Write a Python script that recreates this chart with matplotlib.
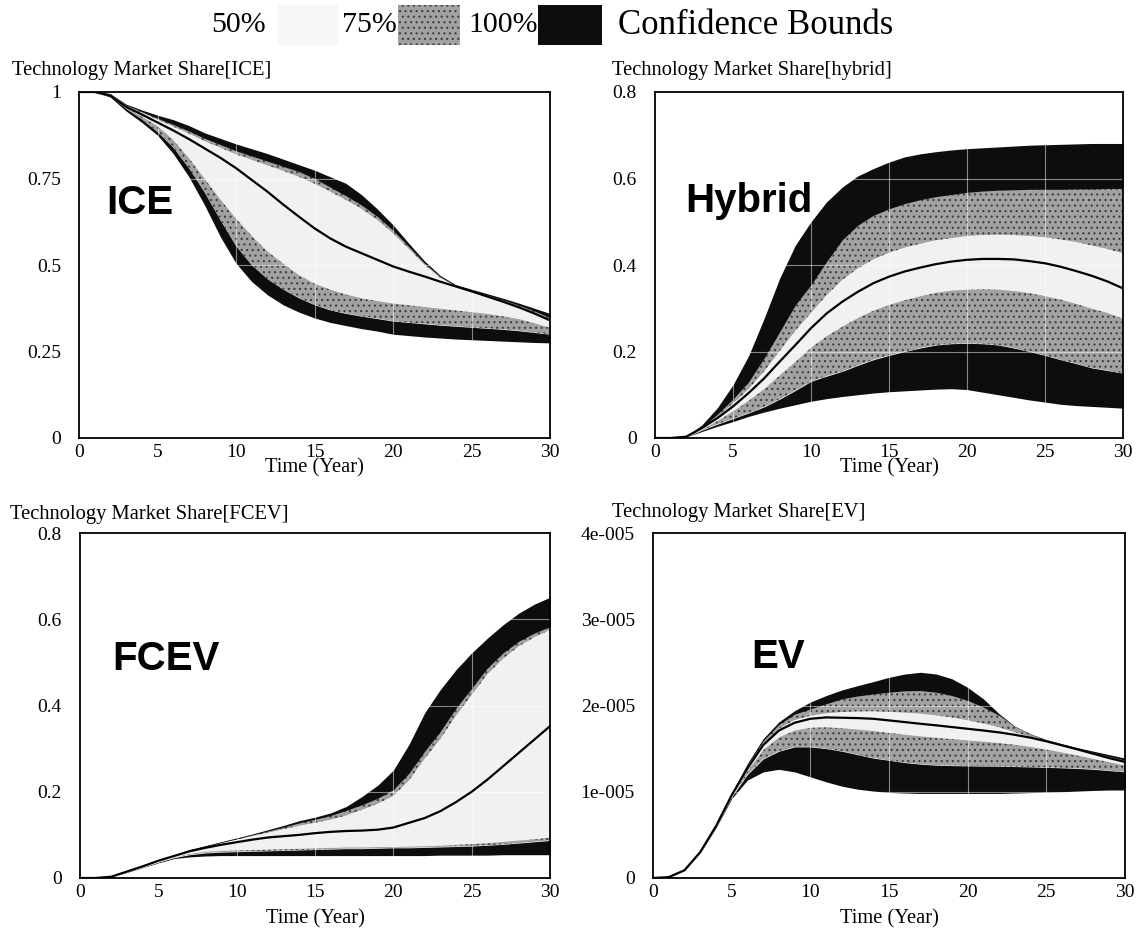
import matplotlib
matplotlib.use("Agg")
import matplotlib.pyplot as plt
from matplotlib.patches import Rectangle
import numpy as np

# ---------------- data (t = 0..30 years) ----------------
years = list(range(0, 31))

# ICE
ice_up100 = [1.0, 1.0, 0.995, 0.965, 0.948, 0.933, 0.92, 0.903, 0.882, 0.866, 0.85, 0.836, 0.822, 0.806, 0.79, 0.774,
             0.755, 0.736, 0.703, 0.662, 0.616, 0.563, 0.512, 0.47, 0.443, 0.43, 0.417, 0.404, 0.39, 0.375, 0.36]
ice_up75 = [1.0, 1.0, 0.994, 0.962, 0.943, 0.924, 0.906, 0.887, 0.866, 0.848, 0.83, 0.815, 0.80, 0.785, 0.77, 0.75,
            0.725, 0.70, 0.673, 0.64, 0.60, 0.553, 0.505, 0.466, 0.44, 0.427, 0.413, 0.399, 0.384, 0.367, 0.348]
ice_up50 = [1.0, 1.0, 0.993, 0.96, 0.94, 0.92, 0.90, 0.88, 0.858, 0.839, 0.82, 0.804, 0.788, 0.772, 0.755, 0.735,
            0.712, 0.688, 0.662, 0.63, 0.592, 0.547, 0.501, 0.463, 0.439, 0.425, 0.411, 0.397, 0.381, 0.363, 0.343]
ice_median = [1.0, 1.0, 0.99, 0.957, 0.935, 0.912, 0.889, 0.864, 0.837, 0.81, 0.78, 0.746, 0.712, 0.675, 0.64, 0.606,
              0.577, 0.553, 0.534, 0.515, 0.496, 0.481, 0.467, 0.452, 0.438, 0.424, 0.409, 0.394, 0.378, 0.36, 0.34]
ice_lo50 = [1.0, 1.0, 0.989, 0.955, 0.93, 0.902, 0.862, 0.81, 0.75, 0.69, 0.635, 0.585, 0.54, 0.505, 0.472, 0.447,
            0.43, 0.416, 0.405, 0.397, 0.39, 0.385, 0.38, 0.375, 0.37, 0.365, 0.36, 0.353, 0.345, 0.333, 0.32]
ice_lo75 = [1.0, 1.0, 0.988, 0.952, 0.922, 0.885, 0.84, 0.78, 0.71, 0.63, 0.555, 0.50, 0.46, 0.43, 0.405, 0.385,
            0.37, 0.36, 0.352, 0.345, 0.338, 0.334, 0.33, 0.326, 0.323, 0.32, 0.317, 0.314, 0.31, 0.305, 0.30]
ice_lo100 = [1.0, 1.0, 0.985, 0.945, 0.912, 0.875, 0.822, 0.755, 0.673, 0.582, 0.505, 0.452, 0.414, 0.385, 0.364,
             0.347, 0.334, 0.325, 0.316, 0.309, 0.30, 0.296, 0.292, 0.289, 0.286, 0.284, 0.282, 0.28, 0.278, 0.276,
             0.275]

# Hybrid
hyb_up100 = [0, 0, 0.004, 0.03, 0.07, 0.123, 0.19, 0.277, 0.37, 0.446, 0.50, 0.546, 0.58, 0.606, 0.623, 0.638,
             0.65, 0.657, 0.662, 0.666, 0.669, 0.671, 0.673, 0.675, 0.677, 0.678, 0.679, 0.68, 0.681, 0.681, 0.681]
hyb_up75 = [0, 0, 0.003, 0.025, 0.055, 0.09, 0.13, 0.185, 0.246, 0.308, 0.354, 0.408, 0.458, 0.492, 0.515, 0.53,
            0.542, 0.551, 0.558, 0.563, 0.568, 0.571, 0.573, 0.574, 0.575, 0.575, 0.575, 0.576, 0.576, 0.577, 0.577]
hyb_up50 = [0, 0, 0.003, 0.024, 0.049, 0.079, 0.113, 0.154, 0.201, 0.248, 0.289, 0.33, 0.365, 0.392, 0.413, 0.428,
            0.44, 0.449, 0.457, 0.462, 0.467, 0.469, 0.47, 0.469, 0.467, 0.464, 0.459, 0.453, 0.445, 0.437, 0.427]
hyb_median = [0, 0, 0.003, 0.023, 0.046, 0.073, 0.104, 0.138, 0.177, 0.215, 0.254, 0.288, 0.315, 0.338, 0.358, 0.373,
              0.385, 0.394, 0.402, 0.408, 0.412, 0.414, 0.414, 0.413, 0.409, 0.404, 0.396, 0.386, 0.375, 0.362, 0.346]
hyb_lo50 = [0, 0, 0.003, 0.021, 0.041, 0.063, 0.088, 0.115, 0.147, 0.178, 0.211, 0.237, 0.259, 0.279, 0.296, 0.309,
            0.32, 0.329, 0.337, 0.342, 0.344, 0.345, 0.344, 0.341, 0.336, 0.329, 0.321, 0.311, 0.30, 0.29, 0.277]
hyb_lo75 = [0, 0, 0.002, 0.018, 0.032, 0.045, 0.058, 0.072, 0.09, 0.11, 0.131, 0.143, 0.154, 0.168, 0.181, 0.191,
            0.20, 0.208, 0.215, 0.218, 0.219, 0.218, 0.215, 0.208, 0.20, 0.191, 0.181, 0.172, 0.162, 0.156, 0.15]
hyb_lo100 = [0, 0, 0.002, 0.015, 0.027, 0.038, 0.05, 0.06, 0.069, 0.077, 0.085, 0.091, 0.096, 0.10, 0.104, 0.107,
             0.109, 0.111, 0.113, 0.114, 0.112, 0.106, 0.10, 0.094, 0.088, 0.083, 0.078, 0.075, 0.073, 0.071, 0.069]

# FCEV
fc_up100 = [0, 0, 0.004, 0.015, 0.027, 0.04, 0.054, 0.066, 0.075, 0.084, 0.093, 0.102, 0.112, 0.122, 0.133, 0.141,
            0.151, 0.166, 0.189, 0.215, 0.25, 0.31, 0.383, 0.437, 0.483, 0.522, 0.556, 0.587, 0.614, 0.635, 0.651]
fc_up75 = [0, 0, 0.004, 0.015, 0.027, 0.04, 0.053, 0.064, 0.073, 0.082, 0.091, 0.10, 0.109, 0.118, 0.128, 0.136,
           0.145, 0.157, 0.17, 0.185, 0.205, 0.243, 0.294, 0.34, 0.394, 0.44, 0.487, 0.522, 0.549, 0.568, 0.583]
fc_up50 = [0, 0, 0.004, 0.015, 0.027, 0.04, 0.053, 0.064, 0.072, 0.081, 0.089, 0.097, 0.105, 0.113, 0.121, 0.128,
           0.135, 0.145, 0.158, 0.172, 0.19, 0.226, 0.276, 0.322, 0.376, 0.424, 0.472, 0.508, 0.537, 0.558, 0.575]
fc_median = [0, 0, 0.003, 0.015, 0.027, 0.04, 0.051, 0.062, 0.07, 0.077, 0.083, 0.089, 0.094, 0.097, 0.10, 0.104,
             0.107, 0.109, 0.11, 0.112, 0.117, 0.128, 0.139, 0.155, 0.176, 0.20, 0.228, 0.259, 0.29, 0.321, 0.352]
fc_lo50 = [0, 0, 0.003, 0.014, 0.025, 0.037, 0.048, 0.057, 0.062, 0.064, 0.065, 0.066, 0.067, 0.068, 0.069, 0.07,
           0.071, 0.072, 0.072, 0.073, 0.073, 0.074, 0.075, 0.076, 0.078, 0.08, 0.082, 0.085, 0.088, 0.091, 0.095]
fc_lo75 = [0, 0, 0.003, 0.014, 0.025, 0.037, 0.047, 0.054, 0.058, 0.06, 0.061, 0.062, 0.063, 0.064, 0.065, 0.066,
           0.067, 0.068, 0.068, 0.069, 0.07, 0.07, 0.071, 0.072, 0.073, 0.074, 0.076, 0.078, 0.081, 0.084, 0.087]
fc_lo100 = [0, 0, 0.003, 0.013, 0.024, 0.035, 0.045, 0.049, 0.051, 0.052, 0.052, 0.052, 0.052, 0.052, 0.052, 0.052,
            0.052, 0.052, 0.052, 0.052, 0.052, 0.052, 0.052, 0.053, 0.053, 0.053, 0.053, 0.054, 0.054, 0.054, 0.054]

# EV (values in units of 1e-5)
ev_unit = 1e-5
ev_up100 = [0, 0.01, 0.096, 0.31, 0.615, 0.98, 1.327, 1.615, 1.81, 1.94, 2.04, 2.115, 2.18, 2.23, 2.277, 2.327,
            2.365, 2.385, 2.365, 2.31, 2.21, 2.077, 1.904, 1.76, 1.67, 1.605, 1.555, 1.51, 1.47, 1.43, 1.39]
ev_up75 = [0, 0.01, 0.095, 0.308, 0.61, 0.975, 1.31, 1.59, 1.78, 1.9, 1.96, 2.02, 2.077, 2.11, 2.135, 2.154,
           2.17, 2.173, 2.154, 2.115, 2.058, 1.98, 1.885, 1.755, 1.665, 1.60, 1.55, 1.50, 1.455, 1.41, 1.365]
ev_up50 = [0, 0.01, 0.092, 0.302, 0.603, 0.965, 1.282, 1.555, 1.731, 1.83, 1.88, 1.909, 1.924, 1.931, 1.933, 1.925,
           1.917, 1.904, 1.885, 1.86, 1.828, 1.791, 1.747, 1.689, 1.638, 1.59, 1.542, 1.493, 1.444, 1.396, 1.351]
ev_median = [0, 0.01, 0.09, 0.30, 0.60, 0.96, 1.27, 1.54, 1.71, 1.80, 1.846, 1.862, 1.858, 1.854, 1.846, 1.827,
             1.808, 1.788, 1.77, 1.75, 1.73, 1.71, 1.688, 1.66, 1.627, 1.585, 1.538, 1.49, 1.44, 1.39, 1.345]
ev_lo50 = [0, 0.01, 0.089, 0.298, 0.597, 0.954, 1.249, 1.492, 1.638, 1.716, 1.748, 1.753, 1.742, 1.727, 1.709, 1.688,
           1.667, 1.648, 1.631, 1.616, 1.601, 1.586, 1.57, 1.55, 1.525, 1.494, 1.46, 1.424, 1.386, 1.347, 1.31]
ev_lo75 = [0, 0.01, 0.088, 0.295, 0.59, 0.94, 1.20, 1.38, 1.47, 1.52, 1.52, 1.50, 1.47, 1.43, 1.39, 1.365,
           1.338, 1.32, 1.308, 1.303, 1.30, 1.298, 1.296, 1.292, 1.288, 1.283, 1.277, 1.27, 1.26, 1.245, 1.23]
ev_lo100 = [0, 0.01, 0.085, 0.29, 0.58, 0.92, 1.135, 1.23, 1.26, 1.23, 1.173, 1.115, 1.065, 1.03, 1.008, 0.992,
            0.985, 0.98, 0.98, 0.98, 0.98, 0.98, 0.98, 0.985, 0.99, 0.995, 1.0, 1.008, 1.015, 1.02, 1.02]

xticks = [0, 5, 10, 15, 20, 25, 30]
ice_yticks = [0, 0.25, 0.5, 0.75, 1]
ice_ylabels = ["0", "0.25", "0.5", "0.75", "1"]
share_yticks = [0, 0.2, 0.4, 0.6, 0.8]
share_ylabels = ["0", "0.2", "0.4", "0.6", "0.8"]
ev_yticks = [0, 1, 2, 3, 4]
ev_ylabels = ["0", "1e-005", "2e-005", "3e-005", "4e-005"]

titles = ["Technology Market Share[ICE]", "Technology Market Share[hybrid]",
          "Technology Market Share[FCEV]", "Technology Market Share[EV]"]
panel_names = ["ICE", "Hybrid", "FCEV", "EV"]
legend_labels = ["50%", "75%", "100%"]
legend_title = "Confidence Bounds"
xlabel = "Time (Year)"

# ---------------- style ----------------
LIGHT = "#f1f1f1"
GRAY = "#a2a2a2"
GRAY_DOT = "#3c3c3c"
BLACK = "#0d0d0d"
SERIF = ["Liberation Serif", "DejaVu Serif"]
SANS = ["Liberation Sans", "DejaVu Sans"]
plt.rcParams["hatch.linewidth"] = 0.8

W, H = 1141, 934
fig = plt.figure(figsize=(W / 100, H / 100), dpi=100)


def px_rect(left, right, top, bottom):
    return [left / W, (H - bottom) / H, (right - left) / W, (bottom - top) / H]


def band(ax, x, y0, y1, kind):
    if kind == "black":
        ax.fill_between(x, y0, y1, facecolor=BLACK, edgecolor=BLACK, lw=0, zorder=1)
    elif kind == "gray":
        ax.fill_between(x, y0, y1, facecolor=GRAY, edgecolor=GRAY_DOT, hatch="...", lw=0, zorder=1)
    else:
        ax.fill_between(x, y0, y1, facecolor=LIGHT, edgecolor=LIGHT, lw=0, zorder=1)


panels = [
    dict(rect=px_rect(79, 550, 92, 438), data=(ice_lo100, ice_lo75, ice_lo50, ice_median, ice_up50, ice_up75, ice_up100),
         scale=1.0, ylim=1.0, yt=ice_yticks, yl=ice_ylabels, lab=(0.058, 0.648), title_xy=(12, 71), xl_y=468),
    dict(rect=px_rect(655, 1123, 92, 438), data=(hyb_lo100, hyb_lo75, hyb_lo50, hyb_median, hyb_up50, hyb_up75, hyb_up100),
         scale=1.0, ylim=0.8, yt=share_yticks, yl=share_ylabels, lab=(0.064, 0.654), title_xy=(612, 71), xl_y=468),
    dict(rect=px_rect(80, 550, 533, 878), data=(fc_lo100, fc_lo75, fc_lo50, fc_median, fc_up50, fc_up75, fc_up100),
         scale=1.0, ylim=0.8, yt=share_yticks, yl=share_ylabels, lab=(0.068, 0.603), title_xy=(10, 514), xl_y=919),
    dict(rect=px_rect(653, 1125, 533, 878), data=(ev_lo100, ev_lo75, ev_lo50, ev_median, ev_up50, ev_up75, ev_up100),
         scale=ev_unit, ylim=4 * ev_unit, yt=ev_yticks, yl=ev_ylabels, lab=(0.208, 0.609), title_xy=(612, 512), xl_y=919),
]

t = np.array(years, dtype=float)
for i, p in enumerate(panels):
    ax = fig.add_axes(p["rect"])
    lo100, lo75, lo50, med, up50, up75, up100 = [np.array(a, dtype=float) * p["scale"] for a in p["data"]]
    band(ax, t, lo100, lo75, "black")
    band(ax, t, lo75, lo50, "gray")
    band(ax, t, lo50, up50, "light")
    band(ax, t, up50, up75, "gray")
    band(ax, t, up75, up100, "black")
    ax.plot(t, med, color="black", lw=1.6, zorder=4)
    ax.set_xlim(0, 30)
    ax.set_ylim(0, p["ylim"])
    ax.set_xticks(xticks)
    ax.set_xticklabels([str(x) for x in xticks])
    ax.set_yticks([v * p["scale"] for v in p["yt"]])
    ax.set_yticklabels(p["yl"])
    ax.tick_params(length=0, labelsize=14, pad=4)
    ax.tick_params(axis="y", pad=13)
    for lbl in ax.get_xticklabels() + ax.get_yticklabels():
        lbl.set_fontfamily(SERIF)
    ax.grid(True, color="white", lw=0.8, alpha=0.5, zorder=2)
    ax.set_axisbelow(False)
    for s in ax.spines.values():
        s.set_linewidth(1.3)
        s.set_color("black")
        s.set_zorder(5)
    ax.text(p["lab"][0], p["lab"][1], panel_names[i], transform=ax.transAxes, ha="left", va="baseline",
            fontsize=29, fontweight="bold", family=SANS, zorder=6)
    tx, ty = p["title_xy"]
    fig.text(tx / W, 1 - ty / H, titles[i], ha="left", va="center", fontsize=14.8, family=SERIF)
    r = p["rect"]
    fig.text(r[0] + r[2] / 2, 1 - p["xl_y"] / H, xlabel, ha="center", va="center", fontsize=14.8, family=SERIF)

# ---------------- legend ----------------
leg_y = 25
text_x = [211, 342, 468]
swatches = [(278, 338, "light"), (398, 460, "gray"), (538, 602, "black")]
for lbl, x0 in zip(legend_labels, text_x):
    fig.text(x0 / W, 1 - leg_y / H, lbl, ha="left", va="center", fontsize=21.5, family=SERIF)
sw_style = {"light": dict(facecolor="#f7f7f7", edgecolor="#f7f7f7", hatch=None),
            "gray": dict(facecolor=GRAY, edgecolor=GRAY_DOT, hatch="..."),
            "black": dict(facecolor=BLACK, edgecolor=BLACK, hatch=None)}
for (x0, x1, kind) in swatches:
    fig.patches.append(Rectangle((x0 / W, 1 - 45 / H), (x1 - x0) / W, 40 / H, transform=fig.transFigure,
                                 lw=0, **sw_style[kind]))
fig.text(618 / W, 1 - leg_y / H, legend_title, ha="left", va="center", fontsize=25, family=SERIF)

fig.savefig("out.png", dpi=100)
